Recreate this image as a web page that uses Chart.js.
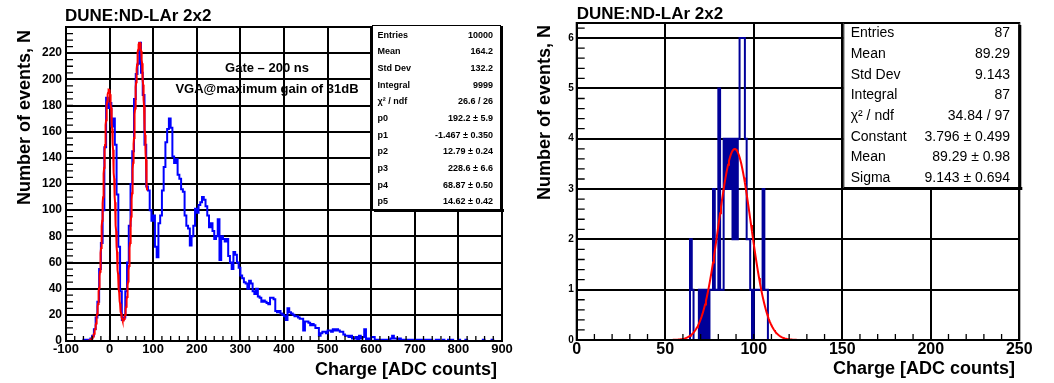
<!DOCTYPE html>
<html>
<head>
<meta charset="utf-8">
<title>DUNE:ND-LAr 2x2 charge spectra</title>
<script src="https://cdn.jsdelivr.net/npm/chart.js@4.4.1/dist/chart.umd.min.js"></script>
<style>
  html, body { margin: 0; padding: 0; background: #fff; }
  #wrap { position: relative; width: 1054px; height: 383px; }
  .pane { position: absolute; top: 0; width: 527px; height: 383px; }
  canvas { display: block; }
</style>
</head>
<body>
<div id="wrap">
  <div class="pane" style="left:0"><canvas id="spectrum" width="527" height="383"></canvas></div>
  <div class="pane" style="left:527px"><canvas id="single" width="527" height="383"></canvas></div>
</div>
<script>
const FONT = '"Liberation Sans", Arial, Helvetica, sans-serif';

// ---- left: charge spectrum, 4 ADC-count bins from -100 to 900 ----
const spectrumBinStart = -100;
const spectrumBinWidth = 4;
const spectrumCounts = [
  0, 0, 0, 0, 0, 0, 0, 0, 0, 0, 1, 0, 1, 1, 2, 4, 9, 18, 30, 55, 75, 100, 148, 186, 178,
  182, 164, 170, 150, 112, 72, 38, 16, 18, 38, 60, 88, 120, 145, 185, 204, 212, 228, 205, 188, 150, 118, 115, 100, 92,
  96, 72, 64, 90, 96, 115, 133, 152, 162, 170, 163, 141, 136, 139, 127, 124, 116, 114, 96, 88, 86, 73, 80, 88, 101,
  98, 104, 106, 110, 108, 103, 96, 87, 90, 84, 78, 80, 93, 62, 80, 78, 76, 78, 65, 60, 55, 68, 66, 60, 56,
  50, 48, 45, 44, 40, 46, 44, 38, 36, 40, 34, 33, 30, 31, 30, 29, 28, 33, 33, 32, 23, 22, 23, 21, 20,
  19, 16, 25, 22, 21, 20, 19, 19, 18, 17, 17, 8, 15, 15, 14, 12, 13, 12, 10, 10, 4, 6, 7, 7, 6,
  8, 8, 7, 9, 8, 9, 8, 7, 7, 5, 4, 4, 3, 4, 2, 2, 3, 1, 4, 2, 3, 9, 1, 2, 1,
  3, 3, 1, 1, 1, 1, 0, 1, 1, 0, 1, 2, 4, 2, 2, 1, 2, 0, 1, 1, 0, 1, 0, 1, 1,
  0, 1, 0, 1, 1, 0, 1, 1, 0, 1, 0, 0, 1, 1, 0, 0, 1, 0, 0, 1, 0, 1, 0, 0, 0,
  1, 0, 0, 0, 1, 0, 0, 0, 0, 0, 0, 0, 0, 0, 1, 0, 0, 0, 0, 1, 0, 0, 0, 0, 0
];
// double gaussian fit: p0..p5
const spectrumFitParams = [192.2, -1.467, 12.79, 228.6, 68.87, 14.62];
const spectrumFitRange = [-50, 86];
const spectrumStats = [
  ['Entries', '10000'], ['Mean', '164.2'], ['Std Dev', '132.2'], ['Integral', '9999'],
  ['\u03c7\u00b2 / ndf', '26.6 / 26'], ['p0', '192.2 \u00b1 5.9'], ['p1', '-1.467 \u00b1 0.350'],
  ['p2', '12.79 \u00b1 0.24'], ['p3', '228.6 \u00b1 6.6'], ['p4', '68.87 \u00b1 0.50'], ['p5', '14.62 \u00b1 0.42']
];
const spectrumNotes = ['Gate \u2013 200 ns', 'VGA@maximum gain of 31dB'];

// ---- right: single-peak histogram, 1 ADC-count bins starting at 60 ----
const singleBinStart = 60;
const singleBinWidth = 1;
const singleCounts = [
  0, 0, 0, 0, 2, 1, 0, 0, 0, 1, 0, 1, 0, 1, 0, 1, 1, 3, 1, 1,
  5, 1, 1, 4, 3, 4, 3, 4, 2, 4, 2, 4, 6, 6, 6, 4, 2, 2, 1, 0,
  1, 1, 1, 1, 1, 3, 1, 1, 0, 0
];
// gaussian fit: constant, mean, sigma
const singleFitParams = [3.796, 89.29, 9.143];
const singleFitRange = [40, 140];
const singleStats = [
  ['Entries', '87'], ['Mean', '89.29'], ['Std Dev', '9.143'], ['Integral', '87'],
  ['\u03c7\u00b2 / ndf', '34.84 / 97'], ['Constant', '3.796 \u00b1 0.499'],
  ['Mean', '89.29 \u00b1 0.98'], ['Sigma', '9.143 \u00b1 0.694']
];

const plotTitle = 'DUNE:ND-LAr 2x2';
const xTitle = 'Charge [ADC counts]';
const yTitle = 'Number of events, N';

// bin contents -> outline points (left edge of every bin plus the closing edge)
function histPoints(start, width, counts) {
  const pts = counts.map((c, i) => ({ x: start + i * width, y: c }));
  pts.push({ x: start + counts.length * width, y: counts[counts.length - 1] });
  return pts;
}

function gauss(x, c, m, s) {
  return c * Math.exp(-0.5 * ((x - m) / s) ** 2);
}

function curvePoints(range, step, fn) {
  const pts = [];
  const n = Math.round((range[1] - range[0]) / step);
  for (let i = 0; i <= n; i++) {
    const x = range[0] + i * step;
    pts.push({ x, y: fn(x) });
  }
  return pts;
}

const spectrumFit = curvePoints(spectrumFitRange, 0.5, x => {
  const p = spectrumFitParams;
  return gauss(x, p[0], p[1], p[2]) + gauss(x, p[3], p[4], p[5]);
});
const singleFit = curvePoints(singleFitRange, 0.5, x => {
  const p = singleFitParams;
  return gauss(x, p[0], p[1], p[2]);
});

// frame, inward minor ticks, stat box and all the labels around the pad
function padDecor(o) {
  return {
    id: 'padDecor',
    afterDatasetsDraw(chart) {
      const { ctx, chartArea: a, scales: { x, y } } = chart;
      ctx.save();
      ctx.strokeStyle = '#000';
      ctx.lineWidth = 1.3;
      ctx.beginPath();
      const nx = Math.round((x.max - x.min) / o.xMinor);
      for (let i = 0; i <= nx; i++) {
        const px = x.getPixelForValue(x.min + i * o.xMinor);
        ctx.moveTo(px, a.bottom);
        ctx.lineTo(px, a.bottom - o.xTickLen);
      }
      const ny = Math.floor((y.max - y.min) / o.yMinor + 1e-6);
      for (let i = 0; i <= ny; i++) {
        const py = y.getPixelForValue(y.min + i * o.yMinor);
        ctx.moveTo(a.left, py);
        ctx.lineTo(a.left + o.yTickLen, py);
      }
      ctx.stroke();
      ctx.lineWidth = 2;
      ctx.strokeRect(a.left, a.top, a.right - a.left, a.bottom - a.top);
      ctx.restore();
    },
    afterDraw(chart) {
      const { ctx } = chart;
      const b = o.box;
      ctx.save();
      // stat box with its shadow
      ctx.fillStyle = '#fff';
      ctx.fillRect(b.x, b.y, b.w, b.h);
      ctx.strokeStyle = '#000';
      ctx.lineWidth = 1;
      ctx.strokeRect(b.x + 0.5, b.y + 0.5, b.w - 1, b.h - 1);
      ctx.fillStyle = '#000';
      ctx.fillRect(b.x + b.w - 1, b.y + 2, 3, b.h);
      ctx.fillRect(b.x + 2, b.y + b.h - 1, b.w + 1, 3);

      ctx.font = o.statFont;
      ctx.textBaseline = 'middle';
      o.stats.forEach((row, i) => {
        const ty = b.rowTop + i * b.rowStep;
        ctx.textAlign = 'left';
        ctx.fillText(row[0], b.labelX, ty);
        ctx.textAlign = 'right';
        ctx.fillText(row[1], b.valueX, ty);
      });

      ctx.font = 'bold 17px ' + FONT;
      ctx.textAlign = 'left';
      ctx.fillText(plotTitle, o.titleX, o.titleY);

      ctx.font = 'bold 18px ' + FONT;
      ctx.textAlign = 'right';
      ctx.fillText(xTitle, o.xTitleX, o.xTitleY);

      ctx.save();
      ctx.translate(o.yTitleX, o.yTitleY);
      ctx.rotate(-Math.PI / 2);
      ctx.textAlign = 'right';
      ctx.fillText(yTitle, 0, 0);
      ctx.restore();

      if (o.notes) {
        ctx.font = 'bold 13px ' + FONT;
        ctx.textAlign = 'center';
        o.notes.forEach((t, i) => ctx.fillText(t, o.notesX, o.notesY[i]));
      }
      ctx.restore();
    }
  };
}

function axisTicks(size, pad) {
  return {
    color: '#000',
    font: { family: FONT, size, weight: 'bold' },
    padding: pad,
    maxRotation: 0,
    autoSkip: false,
    includeBounds: false
  };
}

function makeChart(id, cfg) {
  return new Chart(document.getElementById(id), {
    type: 'line',
    data: {
      datasets: [
        {
          data: cfg.fit,
          borderColor: '#ff0000',
          borderWidth: 2,
          pointRadius: 0,
          tension: 0,
          order: 0
        },
        {
          data: cfg.hist,
          borderColor: cfg.histColor,
          borderWidth: 2,
          pointRadius: 0,
          stepped: true,
          order: 1
        }
      ]
    },
    options: {
      responsive: false,
      animation: false,
      events: [],
      layout: { padding: cfg.padding },
      plugins: { legend: { display: false }, tooltip: { enabled: false }, title: { display: false } },
      scales: {
        x: {
          type: 'linear',
          min: cfg.xMin,
          max: cfg.xMax,
          ticks: Object.assign(axisTicks(cfg.xFont, cfg.xPad), { stepSize: cfg.xStep }),
          grid: { color: '#000', lineWidth: 2, drawTicks: false },
          border: { display: false },
          afterFit(s) { s.height = cfg.xHeight; s.paddingLeft = 0; s.paddingRight = 0; }
        },
        y: {
          type: 'linear',
          min: 0,
          max: cfg.yMax,
          ticks: Object.assign(axisTicks(cfg.yFont, cfg.yPad), {
            stepSize: cfg.yStep,
            callback: v => (v > cfg.yLastLabel ? '' : v)
          }),
          grid: { color: '#000', lineWidth: 2, drawTicks: false },
          border: { display: false },
          afterFit(s) { s.width = cfg.yWidth; s.paddingTop = 0; s.paddingBottom = 0; }
        }
      }
    },
    plugins: [padDecor(cfg.decor)]
  });
}

makeChart('spectrum', {
  hist: histPoints(spectrumBinStart, spectrumBinWidth, spectrumCounts),
  fit: spectrumFit,
  histColor: '#0000ff',
  padding: { left: 0, top: 27, right: 25, bottom: 0 },
  xMin: -100, xMax: 900, xStep: 100, xFont: 13, xPad: 1, xHeight: 42,
  yMax: 240, yStep: 20, yFont: 12, yPad: 4, yWidth: 66, yLastLabel: 220,
  decor: {
    xMinor: 20, xTickLen: 5, yMinor: 5, yTickLen: 7,
    box: { x: 372, y: 25, w: 129, h: 185, labelX: 377.5, valueX: 493, rowTop: 35.3, rowStep: 16.67 },
    statFont: 'bold 9px ' + FONT,
    stats: spectrumStats,
    titleX: 65, titleY: 16,
    xTitleX: 497, xTitleY: 370,
    yTitleX: 25, yTitleY: 30,
    notes: spectrumNotes, notesX: 267, notesY: [68, 89]
  }
});

makeChart('single', {
  hist: histPoints(singleBinStart, singleBinWidth, singleCounts),
  fit: singleFit,
  histColor: '#000099',
  padding: { left: 0, top: 23, right: 34.7, bottom: 0 },
  xMin: 0, xMax: 250, xStep: 50, xFont: 16, xPad: 0, xHeight: 43,
  yMax: 6.3, yStep: 1, yFont: 10, yPad: 3, yWidth: 49.7, yLastLabel: 6,
  decor: {
    xMinor: 10, xTickLen: 6, yMinor: 0.2, yTickLen: 8,
    box: { x: 316.3, y: 23, w: 176, h: 165, labelX: 323.7, valueX: 483, rowTop: 33.3, rowStep: 20.7 },
    statFont: '14px ' + FONT,
    stats: singleStats,
    titleX: 49.7, titleY: 14,
    xTitleX: 488, xTitleY: 369,
    yTitleX: 18, yTitleY: 25
  }
});
</script>
</body>
</html>
